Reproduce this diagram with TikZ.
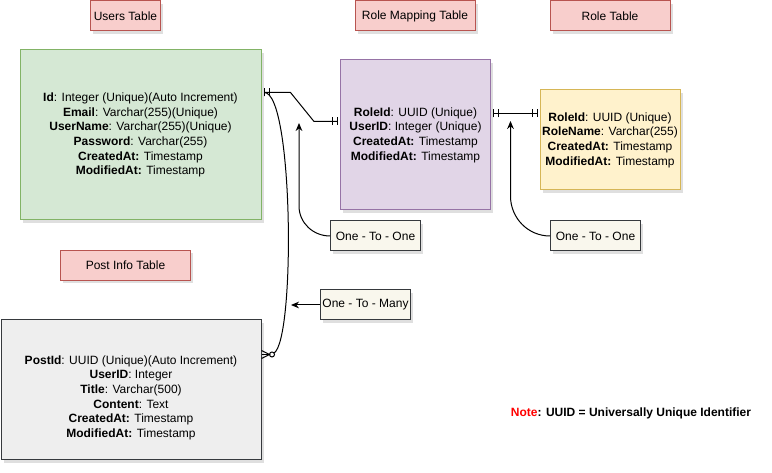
\documentclass[tikz,border=0pt]{standalone}
\usepackage{fontspec}
\setmainfont{Liberation Sans}
\usetikzlibrary{arrows.meta}
\usetikzlibrary{calc}
\usetikzlibrary{shadows}
\definecolor{usersfill}{HTML}{D5E8D4}
\definecolor{usersdraw}{HTML}{82B366}
\definecolor{rolemapfill}{HTML}{E1D5E7}
\definecolor{rolemapdraw}{HTML}{9673A6}
\definecolor{rolefill}{HTML}{FFF2CC}
\definecolor{roledraw}{HTML}{D6B656}
\definecolor{postfill}{HTML}{EEEEEE}
\definecolor{postdraw}{HTML}{36393D}
\definecolor{titlefill}{HTML}{F8CECC}
\definecolor{titledraw}{HTML}{B85450}
\definecolor{remarkfill}{HTML}{F9F7ED}
\tikzset{boxshadow/.style={drop shadow={shadow xshift=2pt, shadow yshift=-2pt, opacity=.25}}}
\tikzset{tablebox/.style={draw, line width=.75pt, align=center, inner sep=0pt, boxshadow}}
\tikzset{tabletitle/.style={draw=titledraw, fill=titlefill, line width=.75pt, inner sep=0pt, minimum height=22.5pt, boxshadow}}
\tikzset{remark/.style={draw=postdraw, fill=remarkfill, line width=.75pt, inner sep=0pt, minimum width=67.5pt, minimum height=22.5pt, boxshadow}}
\tikzset{onebars/.tip={Bar[width=6pt,sep=3pt]Bar[width=6pt,sep=1.5pt]}}
\tikzset{mandone/.style={{onebars}-{onebars}}}
\tikzset{pointer/.style={-{Stealth[length=6pt,width=5pt]}}}

\begin{document}
\begin{tikzpicture}[x=.75pt,y=.75pt,font=\fontsize{9}{11}\selectfont,line width=.75pt]
  \useasboundingbox (0,0) rectangle (772,-473);
  \node[tablebox, fill=usersfill, draw=usersdraw, minimum width=180.75pt, minimum height=127.5pt] (users) at (140.5,-135) {
    \textbf{Id}: Integer (Unique)(Auto Increment)\\
    \textbf{Email}: Varchar(255)(Unique)\\
    \textbf{UserName}: Varchar(255)(Unique)\\
    \textbf{Password}: Varchar(255)\\
    \textbf{CreatedAt:} Timestamp\\
    \textbf{ModifiedAt:} Timestamp};
  \node[tablebox, fill=rolemapfill, draw=rolemapdraw, minimum width=112.5pt, minimum height=112.5pt] (rolemap) at (415.5,-135) {
    \textbf{RoleId}: UUID (Unique)\\
    \textbf{UserID}: Integer (Unique)\\
    \textbf{CreatedAt:} Timestamp\\
    \textbf{ModifiedAt:} Timestamp};
  \node[tablebox, fill=rolefill, draw=roledraw, minimum width=105pt, minimum height=75pt] (role) at (610,-140) {
    \textbf{RoleId}: UUID (Unique)\\
    \textbf{RoleName}: Varchar(255)\\
    \textbf{CreatedAt:} Timestamp\\
    \textbf{ModifiedAt:} Timestamp};
  \node[tablebox, fill=postfill, draw=postdraw, minimum width=195pt, minimum height=105pt] (post) at (131,-390) {
    \rule{0pt}{18pt}\textbf{PostId}: UUID (Unique)(Auto Increment)\\
    \textbf{UserID}: Integer\\
    \textbf{Title}: Varchar(500)\\
    \textbf{Content}: Text\\
    \textbf{CreatedAt:} Timestamp\\
    \textbf{ModifiedAt:} Timestamp};

  % table titles
  \foreach \x/\y/\w/\lab/\txt in {
    125.5/-16/52.5pt/tusers/Users Table,
    415/-16/90pt/trolemap/Role Mapping Table,
    610/-16/90pt/trole/Role Table,
    125.5/-265.5/97.5pt/tpost/Post Info Table%
  } {
    \node[tabletitle, minimum width=\w] (\lab) at (\x, \y) {\txt};
  }

  % relation remarks
  \foreach \x/\y/\lab/\txt in {
    375.5/-236/one1/One - To - One,
    595.5/-236/one2/One - To - One,
    365.5/-305/many/One - To - Many%
  } {
    \node[remark] (\lab) at (\x, \y) {\txt};
  }

  \node (note) at (631,-413) {\textbf{\textcolor{red}{Note}: UUID = Universally Unique Identifier}};

  % connection points
  \coordinate (u1) at ($(users.north east)+(0,-43)$);
  \coordinate (rm1) at ($(rolemap.north west)+(0,-62)$);
  \coordinate (rm2) at ($(rolemap.north east)+(0,-54)$);
  \coordinate (r1) at ($(role.north west)+(0,-24)$);
  \coordinate (p1) at ($(post.north east)+(0,-35)$);

  \draw[mandone] (u1) -- ++(29,0) -- ($(rm1)+(-26,0)$) -- (rm1);
  \draw[mandone] (rm2) -- (r1);
  \draw[{onebars}-] (u1) .. controls +(32,0) and ($(p1)+(34,15)$) .. ($(p1)+(12.5,1.4)$);
  % zero-to-many end
  \draw (p1) -- ++(8,0);
  \draw ($(p1)+(0,4)$) -- ($(p1)+(8,0)$) -- ($(p1)+(0,-4)$);
  \draw ($(p1)+(10.5,0)$) circle[radius=2.5];

  \draw[pointer] (one1.west) to[out=180,in=-90] ($(one1.west)+(-31,30)$) -- ($(one1.west)+(-31,113)$);
  \draw[pointer] (one2.west) to[out=180,in=-90] ($(one2.west)+(-39.5,40)$) -- ($(one2.west)+(-39.5,115)$);
  \draw[pointer] (many.west) -- ++(-29,0);
\end{tikzpicture}
\end{document}
